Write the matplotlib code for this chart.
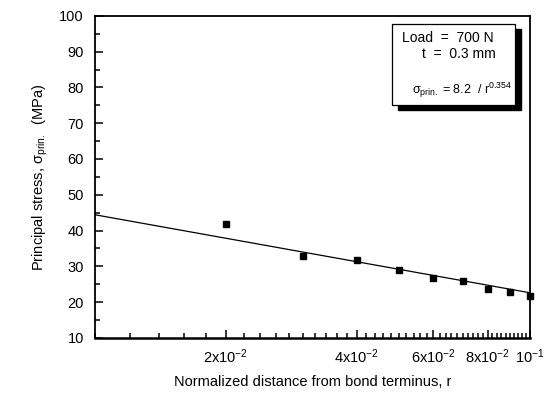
import numpy as np
import matplotlib.pyplot as plt
from matplotlib.ticker import FixedLocator, FixedFormatter, MultipleLocator, NullFormatter
from matplotlib.patches import Rectangle

plt.rcParams['font.family'] = ['Liberation Sans', 'DejaVu Sans']
plt.rcParams['mathtext.fontset'] = 'custom'
plt.rcParams['mathtext.rm'] = 'Liberation Sans'
plt.rcParams['mathtext.it'] = 'Liberation Sans'

# measured principal stress vs normalized distance
r = [0.02, 0.03, 0.04, 0.05, 0.06, 0.07, 0.08, 0.09, 0.1]
stress = [41.8, 32.9, 31.7, 28.9, 26.8, 25.8, 23.6, 22.8, 21.7]

# fitted trend line end points
fit_r = [0.01, 0.1]
fit_stress = [44.4, 22.6]

xticks = [0.02, 0.04, 0.06, 0.08, 0.1]
xticklabels = [r'2x10$^{-2}$', r'4x10$^{-2}$', r'6x10$^{-2}$', r'8x10$^{-2}$', r'10$^{-1}$']

fig = plt.figure(figsize=(5.56, 3.97), dpi=100)
ax = fig.add_axes([0.171, 0.149, 0.782, 0.811])

ax.plot(fit_r, fit_stress, color='black', lw=0.9)
ax.plot(r, stress, 's', color='black', ms=4.3, clip_on=False, zorder=3)

ax.set_xscale('log')
ax.set_xlim(0.01, 0.1)
ax.set_ylim(10, 100)

ax.xaxis.set_major_locator(FixedLocator(xticks))
ax.xaxis.set_major_formatter(FixedFormatter(xticklabels))
ax.xaxis.set_minor_locator(MultipleLocator(0.002))
ax.xaxis.set_minor_formatter(NullFormatter())
ax.yaxis.set_major_locator(MultipleLocator(10))
ax.yaxis.set_minor_locator(MultipleLocator(5))

ax.tick_params(which='both', direction='in', top=False, right=False,
               labelsize=10.5, width=1.1)
ax.tick_params(which='major', length=6)
ax.tick_params(which='minor', length=3.5)
ax.tick_params(axis='y', which='major', pad=8)
ax.tick_params(axis='x', which='major', pad=7)
for s in ax.spines.values():
    s.set_linewidth(1.3)
ax.spines['bottom'].set_linewidth(1.8)

ax.set_xlabel('Normalized distance from bond terminus, r', fontsize=10.5, labelpad=6)
ax.set_ylabel(r'Principal stress, $\sigma_{\mathregular{prin.}}$  (MPa)', fontsize=10.5, labelpad=7)

# annotation box with drop shadow
bx, by, bw, bh = 0.683, 0.724, 0.283, 0.251
ax.add_patch(Rectangle((bx + 0.014, by - 0.016), bw, bh, transform=ax.transAxes,
                       facecolor='black', edgecolor='black', zorder=4))
ax.add_patch(Rectangle((bx, by), bw, bh, transform=ax.transAxes,
                       facecolor='white', edgecolor='black', lw=0.9, zorder=5))
ax.text(0.705, 0.93, 'Load  =  700 N', transform=ax.transAxes, fontsize=10,
        va='center', zorder=6)
ax.text(0.752, 0.882, 't  =  0.3 mm', transform=ax.transAxes, fontsize=10,
        va='center', zorder=6)
ax.text(0.73, 0.77, r'$\sigma_{\mathregular{prin.}}$ = 8.2  / r$^{0.354}$',
        transform=ax.transAxes, fontsize=9, va='center', zorder=6)

fig.savefig('out.png', dpi=100)
